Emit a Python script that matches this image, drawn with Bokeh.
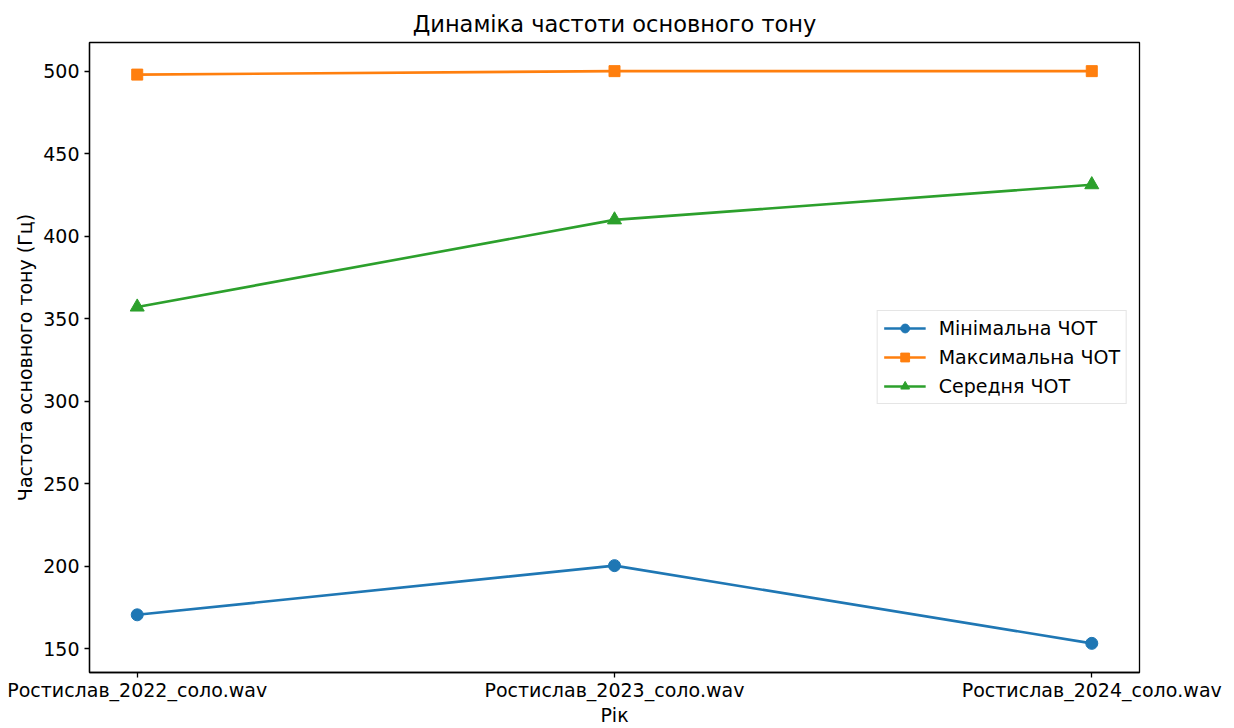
from bokeh.plotting import figure
from bokeh.models import Range1d, FixedTicker, Legend, LegendItem
from bokeh.embed import file_html
from bokeh.resources import INLINE

files = ["Ростислав_2022_соло.wav", "Ростислав_2023_соло.wav", "Ростислав_2024_соло.wav"]
min_f0 = [170.6, 200.4, 153.3]
max_f0 = [497.9, 500.0, 500.0]
mean_f0 = [357.1, 409.9, 431.2]
y_ticks = [150, 200, 250, 300, 350, 400, 450, 500]
x = list(range(len(files)))

FONT = "DejaVu Sans"
W, H = 1234, 728

p = figure(width=W, height=H, output_backend="svg", toolbar_location=None,
           x_range=Range1d(-0.1, 2.1), y_range=Range1d(135.65, 517.35),
           min_border_left=89, min_border_right=W - 1139, min_border_top=42, min_border_bottom=H - 672,
           title="Динаміка частоти основного тону")

p.title.align = "center"
p.title.text_font = FONT
p.title.text_font_size = "22.5px"
p.title.text_font_style = "normal"
p.title.text_color = "black"
p.title.standoff = 11

p.grid.visible = False
p.outline_line_color = "black"
p.outline_line_width = 1.3
p.background_fill_color = "white"
p.border_fill_color = "white"

p.xaxis.ticker = FixedTicker(ticks=x)
p.xaxis.major_label_overrides = {i: f for i, f in enumerate(files)}
p.yaxis.ticker = FixedTicker(ticks=y_ticks)
for ax in (p.xaxis, p.yaxis):
    ax.minor_tick_line_color = None
    ax.major_tick_in = 0
    ax.major_tick_out = 5
    ax.axis_line_color = "black"
    ax.axis_line_width = 1.3
    ax.major_tick_line_color = "black"
    ax.major_tick_line_width = 1.3
    ax.major_label_text_font = FONT
    ax.major_label_text_font_size = "19px"
    ax.major_label_text_color = "black"
    ax.axis_label_text_font = FONT
    ax.axis_label_text_font_size = "19px"
    ax.axis_label_text_font_style = "normal"
    ax.axis_label_text_color = "black"
    ax.major_label_standoff = 5
    ax.axis_label_standoff = 4
p.xaxis.major_label_standoff = 1
p.xaxis.axis_label_standoff = 0
p.xaxis.axis_label = "Рік"
p.yaxis.axis_label = "Частота основного тону (Гц)"

colors = ["#1f77b4", "#ff7f0e", "#2ca02c"]
labels = ["Мінімальна ЧОТ", "Максимальна ЧОТ", "Середня ЧОТ"]
markers = ["circle", "square", "triangle"]
sizes = [12, 11, 14]
series = [min_f0, max_f0, mean_f0]

items = []
for s, c, lab, m, sz in zip(series, colors, labels, markers, sizes):
    l = p.line(x, s, line_color=c, line_width=2.6)
    sc = p.scatter(x, s, marker=m, size=sz, fill_color=c, line_color=c)
    items.append(LegendItem(label=lab, renderers=[l, sc]))

legend = Legend(items=items, location="right")
legend.label_text_font = FONT
legend.label_text_font_size = "19px"
legend.label_text_color = "black"
legend.glyph_width = 42
legend.glyph_height = 22
legend.label_height = 22
legend.spacing = 7
legend.padding = 6
legend.margin = 12
legend.label_standoff = 13
legend.border_line_color = "#cccccc"
legend.border_line_width = 1.3
legend.background_fill_alpha = 0.8
p.add_layout(legend)

open("out.html", "w").write(file_html(p, INLINE))
